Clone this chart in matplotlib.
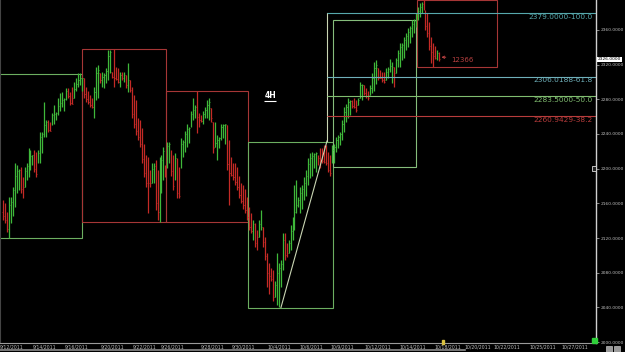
import matplotlib
matplotlib.use("Agg")
import matplotlib.pyplot as plt
from matplotlib.patches import Rectangle
from matplotlib.lines import Line2D
import matplotlib.transforms as mtransforms

# 4H bars
highs = [2164, 2160, 2150, 2167, 2167, 2179, 2207, 2204, 2200, 2202,
         2190, 2202, 2207, 2224, 2221, 2216, 2221, 2219, 2221, 2242,
         2242, 2277, 2256, 2256, 2254, 2264, 2273, 2265, 2282, 2287,
         2288, 2282, 2293, 2293, 2288, 2294, 2300, 2305, 2310, 2310,
         2305, 2304, 2294, 2290, 2285, 2281, 2294, 2317, 2319, 2310,
         2311, 2310, 2316, 2337, 2337, 2311, 2338, 2317, 2316, 2311,
         2311, 2311, 2308, 2322, 2302, 2294, 2285, 2279, 2258, 2256,
         2247, 2229, 2216, 2213, 2198, 2206, 2206, 2210, 2198, 2213,
         2216, 2225, 2204, 2231, 2231, 2221, 2216, 2218, 2212, 2202,
         2235, 2233, 2244, 2252, 2248, 2267, 2281, 2273, 2290, 2264,
         2262, 2267, 2271, 2279, 2281, 2270, 2254, 2254, 2239, 2236,
         2252, 2252, 2252, 2250, 2233, 2213, 2207, 2206, 2202, 2192,
         2184, 2181, 2177, 2167, 2156, 2149, 2141, 2137, 2129, 2141,
         2152, 2133, 2121, 2103, 2091, 2086, 2083, 2071, 2103, 2091,
         2095, 2126, 2126, 2114, 2118, 2135, 2144, 2181, 2187, 2167,
         2179, 2181, 2190, 2198, 2212, 2218, 2219, 2218, 2219, 2216,
         2224, 2224, 2227, 2227, 2219, 2216, 2227, 2229, 2236, 2239,
         2242, 2256, 2271, 2275, 2281, 2279, 2279, 2281, 2279, 2281,
         2300, 2298, 2296, 2293, 2290, 2296, 2310, 2323, 2325, 2316,
         2314, 2311, 2311, 2316, 2317, 2327, 2323, 2317, 2328, 2337,
         2345, 2345, 2352, 2356, 2362, 2365, 2371, 2373, 2379, 2386,
         2391, 2392, 2394, 2383, 2379, 2369, 2352, 2345, 2342, 2337,
         2334]
lows = [2141, 2137, 2127, 2120, 2137, 2146, 2156, 2172, 2175, 2172,
        2166, 2179, 2187, 2190, 2198, 2204, 2196, 2190, 2206, 2207,
        2218, 2236, 2236, 2242, 2244, 2250, 2252, 2256, 2262, 2267,
        2271, 2267, 2279, 2282, 2273, 2275, 2281, 2290, 2294, 2296,
        2290, 2282, 2277, 2275, 2271, 2270, 2259, 2279, 2281, 2299,
        2294, 2293, 2299, 2302, 2310, 2304, 2294, 2302, 2299, 2294,
        2302, 2300, 2293, 2288, 2288, 2258, 2247, 2239, 2233, 2225,
        2206, 2190, 2179, 2149, 2179, 2183, 2184, 2152, 2141, 2138,
        2172, 2187, 2190, 2201, 2206, 2192, 2175, 2187, 2166, 2166,
        2201, 2213, 2219, 2225, 2230, 2248, 2256, 2259, 2241, 2248,
        2254, 2252, 2258, 2259, 2256, 2254, 2218, 2225, 2210, 2224,
        2233, 2235, 2229, 2198, 2158, 2192, 2187, 2181, 2175, 2166,
        2160, 2154, 2149, 2141, 2129, 2126, 2118, 2110, 2106, 2121,
        2129, 2110, 2095, 2063, 2056, 2071, 2048, 2052, 2043, 2040,
        2063, 2083, 2095, 2098, 2103, 2106, 2118, 2129, 2149, 2156,
        2149, 2154, 2164, 2169, 2181, 2189, 2192, 2201, 2196, 2204,
        2201, 2207, 2207, 2204, 2196, 2192, 2206, 2207, 2219, 2224,
        2227, 2233, 2242, 2254, 2258, 2262, 2270, 2270, 2265, 2273,
        2281, 2279, 2285, 2281, 2279, 2285, 2287, 2290, 2298, 2302,
        2304, 2300, 2299, 2302, 2304, 2311, 2299, 2294, 2310, 2317,
        2317, 2325, 2328, 2337, 2340, 2345, 2352, 2356, 2363, 2371,
        2375, 2379, 2383, 2360, 2352, 2337, 2322, 2317, 2327, 2325,
        2324]
closes = [2146, 2141, 2131, 2158, 2162, 2175, 2192, 2197, 2199, 2177,
          2170, 2197, 2203, 2214, 2215, 2216, 2200, 2194, 2218, 2236,
          2240, 2250, 2254, 2245, 2244, 2262, 2263, 2264, 2272, 2276,
          2279, 2280, 2290, 2284, 2276, 2275, 2292, 2298, 2302, 2304,
          2305, 2286, 2280, 2277, 2273, 2271, 2288, 2310, 2314, 2302,
          2306, 2308, 2313, 2330, 2334, 2306, 2305, 2303, 2300, 2308,
          2304, 2309, 2297, 2315, 2291, 2263, 2252, 2243, 2237, 2229,
          2211, 2195, 2184, 2183, 2181, 2200, 2203, 2160, 2150, 2205,
          2210, 2220, 2194, 2226, 2229, 2197, 2180, 2212, 2172, 2169,
          2228, 2231, 2240, 2246, 2247, 2263, 2268, 2271, 2260, 2256,
          2255, 2263, 2268, 2274, 2277, 2258, 2224, 2230, 2233, 2235,
          2248, 2250, 2251, 2205, 2195, 2193, 2190, 2185, 2179, 2170,
          2163, 2158, 2152, 2144, 2133, 2128, 2136, 2114, 2109, 2136,
          2147, 2115, 2099, 2080, 2076, 2073, 2052, 2066, 2080, 2085,
          2090, 2118, 2100, 2099, 2114, 2128, 2140, 2150, 2158, 2164,
          2172, 2176, 2184, 2192, 2205, 2212, 2215, 2217, 2218, 2212,
          2210, 2209, 2208, 2206, 2199, 2195, 2222, 2225, 2233, 2236,
          2240, 2252, 2265, 2271, 2277, 2278, 2272, 2271, 2268, 2279,
          2296, 2297, 2287, 2284, 2281, 2293, 2305, 2316, 2320, 2305,
          2304, 2302, 2300, 2312, 2315, 2318, 2320, 2298, 2325, 2333,
          2340, 2343, 2348, 2353, 2358, 2362, 2367, 2370, 2376, 2382,
          2387, 2390, 2385, 2364, 2356, 2341, 2335, 2330, 2328, 2333,
          2326]
first_open = 2150

date_labels = ["9/12/2011", "9/14/2011", "9/16/2011", "9/20/2011", "9/22/2011",
               "9/26/2011", "9/28/2011", "9/30/2011", "10/4/2011", "10/6/2011",
               "10/9/2011", "10/12/2011", "10/14/2011", "10/18/2011", "10/20/2011",
               "10/22/2011", "10/25/2011", "10/27/2011"]
date_pos = [4.7, 21.3, 37.4, 55.1, 71.7, 85.8, 105.9, 121.1, 139.2, 155.3,
            170.9, 189.1, 206.7, 224.3, 239.4, 253.8, 272.2, 288.3]

price_ticks = [2000, 2040, 2080, 2120, 2160, 2200, 2240, 2280, 2320, 2360]
last_price = 2326.0

# boxes drawn on the chart: start bar, end bar, low, high, colour
box_x0 = [-5, 40, 82.3, 123.6, 166.4, 208.7]
box_x1 = [40, 82.3, 123.6, 166.4, 208.2, 249]
box_lo = [2120, 2138, 2138, 2039, 2202, 2317]
box_hi = [2309, 2338, 2290, 2231, 2372, 2394.5]
box_col = ["#6cae60", "#a63636", "#a63636", "#6cae60", "#86bd7c", "#a63636"]

# fibonacci tool
fib_levels = [2379.0, 2306.0188, 2283.5, 2260.9429]
fib_pcts = [100.0, 61.8, 50.0, 38.2]
fib_cols = ["#56a8ac", "#6fb0ba", "#80bd70", "#b83c3c"]
fib_x = 163.4
swing_x = [140.2, 163.4]
swing_y = [2040, 2232]

GREEN = "#3fb83a"
RED = "#c42a26"

fig = plt.figure(figsize=(6.25, 3.52), dpi=100, facecolor="black")
ax = fig.add_axes([0, 9 / 352, 596 / 625, 343 / 352])
ax.set_facecolor("black")

opens = [first_open] + closes[:-1]
opens = [min(max(o, l), h) for o, l, h in zip(opens, lows, highs)]

up = [i for i in range(len(highs)) if closes[i] >= opens[i]]
down = [i for i in range(len(highs)) if closes[i] < opens[i]]

for idx, col in [(up, GREEN), (down, RED)]:
    ax.vlines(idx, [lows[i] for i in idx], [highs[i] for i in idx],
              color=col, lw=0.9)
    ax.hlines([opens[i] for i in idx], [i - 0.35 for i in idx], idx,
              color=col, lw=0.5)
    ax.hlines([closes[i] for i in idx], idx, [i + 0.35 for i in idx],
              color=col, lw=0.5)

for x0, x1, lo, hi, c in zip(box_x0, box_x1, box_lo, box_hi, box_col):
    ax.add_patch(Rectangle((x0, lo), x1 - x0, hi - lo, fill=False,
                           edgecolor=c, lw=0.8))

ax.plot([fib_x, fib_x], [swing_y[1], fib_levels[0]], color="#c9d5b3", lw=0.8)
ax.plot(swing_x, swing_y, color="#c9d5b3", lw=0.8)
for lvl, pct, c in zip(fib_levels, fib_pcts, fib_cols):
    ax.hlines(lvl, fib_x, 300, colors=c, lw=0.8)
    ax.text(297, lvl - 0.8, f"{lvl:.4f}-{pct:.1f}", color=c, fontsize=5.3,
            ha="right", va="top")

# 4H label
ax.text(134.7, 2284.5, "4H", color="white", fontsize=5.5, fontweight="bold",
        ha="center", va="center")
ax.hlines(2278.5, 131.6, 137.8, colors="white", lw=0.8)

# pip count note
ax.annotate("", xy=(219.6, 2328.5), xytext=(224.6, 2328.5),
            arrowprops=dict(arrowstyle="->", color="#b84040", lw=0.7,
                            mutation_scale=4))
ax.text(226.2, 2325, "12366", color="#b84040", fontsize=5, va="center")

ax.set_xlim(-1.36, 298.9)
ax.set_ylim(1999, 2394.5)

ax.yaxis.tick_right()
ax.set_yticks(price_ticks)
ax.set_yticklabels([f"{p:.4f}" for p in price_ticks])
ax.set_xticks(date_pos)
ax.set_xticklabels(date_labels)
ax.tick_params(axis="y", colors="#bdbdbd", labelsize=3.2, length=2,
               width=0.5, pad=1.2)
ax.tick_params(axis="x", colors="#bdbdbd", labelsize=3.3, length=0, pad=1.2)

ax.spines["top"].set_visible(False)
ax.spines["right"].set_color("#cfcfcf")
ax.spines["right"].set_linewidth(1.0)
ax.spines["bottom"].set_color("#9a9a9a")
ax.spines["bottom"].set_linewidth(0.8)
ax.spines["left"].set_color("#444444")
ax.spines["left"].set_linewidth(0.8)

# current price tag on the axis
tr = mtransforms.blended_transform_factory(ax.transAxes, ax.transData)
ax.text(1.003, last_price, f"{last_price:.4f}", transform=tr, fontsize=3.2,
        color="black", va="center", ha="left",
        bbox=dict(boxstyle="square,pad=0.12", fc="white", ec="none"))

# little chart widgets
fig.add_artist(Rectangle((592 / 625, 9 / 352), 5 / 625, 5 / 352,
                         transform=fig.transFigure, color="#2fd03a"))
fig.add_artist(Rectangle((442 / 625, 8 / 352), 2 / 625, 4 / 352,
                         transform=fig.transFigure, color="#d8c040"))
fig.add_artist(Rectangle((591.5 / 625, 181 / 352), 4 / 625, 5 / 352,
                         transform=fig.transFigure, fc="#222222", ec="#dddddd", lw=0.6))
fig.add_artist(Line2D([0, 465 / 625], [1.8 / 352, 1.8 / 352],
                      transform=fig.transFigure, color="#8c8c8c", lw=1.2))
fig.add_artist(Rectangle((606 / 625, 0.5 / 352), 6 / 625, 6 / 352,
                         transform=fig.transFigure, fc="#9a9a9a", ec="#dddddd", lw=0.4))
fig.add_artist(Rectangle((614 / 625, 0.5 / 352), 6 / 625, 6 / 352,
                         transform=fig.transFigure, fc="#9a9a9a", ec="#dddddd", lw=0.4))

fig.savefig("out.png", dpi=100, facecolor="black")
